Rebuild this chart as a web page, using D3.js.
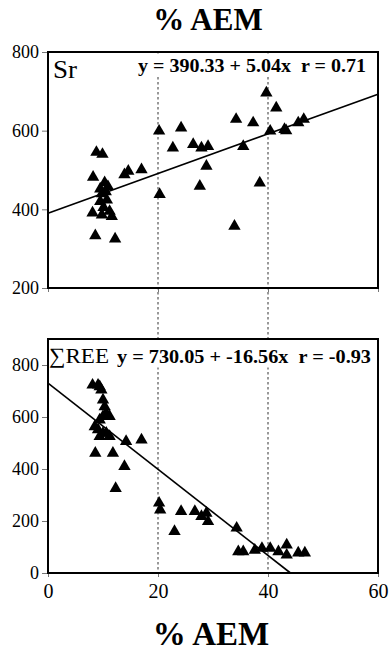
<!DOCTYPE html>
<html>
<head>
<meta charset="utf-8">
<script src="https://cdn.jsdelivr.net/npm/d3@7"></script>
<style>
  html, body { margin: 0; padding: 0; background: #fff; }
  svg { display: block; }
</style>
</head>
<body>
<svg id="chart" width="391" height="652"></svg>
<script>
// ---- data ----
const srX = [8.2, 8.8, 9.9, 8.1, 8.6, 12.2, 9.5, 10.3, 10.9, 9.8, 9.5, 10.7, 9.8, 11.6, 10.1, 10.5, 11.2,
             13.9, 14.6, 17.0, 20.2, 20.3, 22.7, 24.2, 26.4, 27.6, 27.9, 29.1, 28.8,
             34.2, 33.9, 35.5, 37.3, 38.5, 39.7, 40.4, 41.5, 43.0, 43.3, 45.5, 46.5];
const srY = [482, 545, 540, 391, 333, 325, 452, 468, 458, 440, 420, 424, 386, 382, 405, 445, 395,
             488, 497, 501, 599, 438, 556, 607, 565, 459, 556, 560, 510,
             629, 357, 560, 620, 467, 696, 599, 658, 603, 600, 620, 629];
const reeX = [8.1, 9.1, 9.4, 9.7, 10.0, 10.3, 8.5, 9.4, 10.0, 10.6, 11.2, 9.1, 10.0, 10.6, 11.2, 9.4,
              8.6, 11.8, 14.2, 13.9, 17.0, 12.3, 20.2, 20.4, 23.0, 24.2, 26.7, 27.9, 28.8, 29.1,
              34.3, 34.6, 35.5, 37.6, 38.9, 40.4, 41.9, 43.4, 43.4, 45.5, 46.7];
const reeY = [723, 723, 717, 704, 666, 640, 563, 589, 602, 615, 602, 551, 538, 538, 525, 525,
              461, 461, 506, 410, 512, 325, 269, 243, 160, 237, 237, 218, 230, 198,
              173, 82, 82, 88, 95, 95, 82, 108, 69, 77, 77];
const srFit = [390.33, 5.04];     // intercept, slope
const reeFit = [730.05, -16.56];
const xTicks = [0, 20, 40, 60];
const srTicks = [200, 400, 600, 800];
const reeTicks = [0, 200, 400, 600, 800];
const refLines = [20, 40];
const titleText = "% AEM";
const srLabel = "Sr";
const reeLabel = "\u2211REE";
const srEq = "y = 390.33 + 5.04x\u00a0\u00a0r = 0.71";
const reeEq = "y = 730.05 + -16.56x\u00a0\u00a0r = -0.93";

// ---- layout ----
const svg = d3.select("#chart");
const FONT = "'Liberation Serif', 'Times New Roman', serif";
const x = d3.scaleLinear().domain([0, 60]).range([48, 378]);
const yTop = d3.scaleLinear().domain([200, 800]).range([288, 52]);
const yBot = d3.scaleLinear().domain([0, 900]).range([573, 339]);

// reference dashed lines spanning both panels
svg.append("g").selectAll("line").data(refLines).join("line")
  .attr("x1", d => x(d)).attr("x2", d => x(d))
  .attr("y1", yTop(800)).attr("y2", yBot(0))
  .attr("stroke", "#333").attr("stroke-width", 1)
  .attr("stroke-dasharray", "2.5,2.5");

function panel(y, xs, ys, fit, ticks, showX, label, labelSize, labelX, labelLen, labelY, eq, eqX, eqLen, textY) {
  const g = svg.append("g");
  const [y0, y1] = y.domain();
  // y axis ticks
  const ya = g.append("g").attr("transform", `translate(${x(0)},0)`)
    .call(d3.axisLeft(y).tickValues(ticks).tickSize(6).tickPadding(3).tickFormat(d3.format("d")));
  ya.select(".domain").remove();
  ya.selectAll("line").attr("stroke", "#777").attr("stroke-width", 1);
  ya.selectAll("text").attr("font-family", FONT).attr("font-size", 18).attr("fill", "#000");
  // x axis ticks
  const xa = g.append("g").attr("transform", `translate(0,${y(y0)})`)
    .call(d3.axisBottom(x).tickValues(xTicks).tickSize(4).tickPadding(7));
  xa.select(".domain").remove();
  xa.selectAll("line").attr("stroke", "#777");
  if (showX) {
    xa.selectAll("text").attr("font-family", FONT).attr("font-size", 20).attr("fill", "#000");
  } else {
    xa.selectAll("text").remove();
  }
  // frame
  g.append("rect")
    .attr("x", x(0)).attr("y", y(y1))
    .attr("width", x(60) - x(0)).attr("height", y(y0) - y(y1))
    .attr("fill", "none").attr("stroke", "#000").attr("stroke-width", 2);

  // regression line, clipped to the panel
  const xEnd = Math.min(60, fit[1] < 0 ? (y0 - fit[0]) / fit[1] : (y1 - fit[0]) / fit[1]);
  g.append("line")
    .attr("x1", x(0)).attr("y1", y(fit[0]))
    .attr("x2", x(xEnd)).attr("y2", y(fit[0] + fit[1] * xEnd))
    .attr("stroke", "#000").attr("stroke-width", 1.6);

  // points
  g.append("g").selectAll("path").data(xs.map((d, i) => [d, ys[i]])).join("path")
    .attr("d", d3.symbol(d3.symbolTriangle, 66))
    .attr("transform", d => `translate(${x(d[0])},${y(d[1])})`)
    .attr("fill", "#000");

  // equation with white background
  const t = g.append("text")
    .attr("x", eqX).attr("y", textY)
    .attr("font-family", FONT).attr("font-weight", "bold").attr("font-size", 19)
    .attr("textLength", eqLen).attr("lengthAdjust", "spacingAndGlyphs")
    .text(eq);
  const bb = t.node().getBBox();
  g.insert("rect", () => t.node())
    .attr("x", bb.x - 2).attr("y", y(y1) + 1.5)
    .attr("width", bb.width + 4).attr("height", bb.y + bb.height - y(y1) - 1)
    .attr("fill", "#fff");

  g.append("text")
    .attr("x", labelX).attr("y", labelY)
    .attr("font-family", FONT).attr("font-size", labelSize)
    .attr("textLength", labelLen).attr("lengthAdjust", "spacingAndGlyphs")
    .text(label);
}

panel(yTop, srX, srY, srFit, srTicks, false, srLabel, 25, 53, 24, 78, srEq, 138, 228, 72);
panel(yBot, reeX, reeY, reeFit, reeTicks, true, reeLabel, 22, 49, 60, 363, reeEq, 117, 254, 363);

// titles
svg.append("text").attr("x", 208).attr("y", 30)
  .attr("text-anchor", "middle").attr("font-family", FONT)
  .attr("font-weight", "bold").attr("font-size", 31).text(titleText);
svg.append("text").attr("x", 211).attr("y", 645)
  .attr("text-anchor", "middle").attr("font-family", FONT)
  .attr("font-weight", "bold").attr("font-size", 33).text(titleText);
</script>
</body>
</html>
